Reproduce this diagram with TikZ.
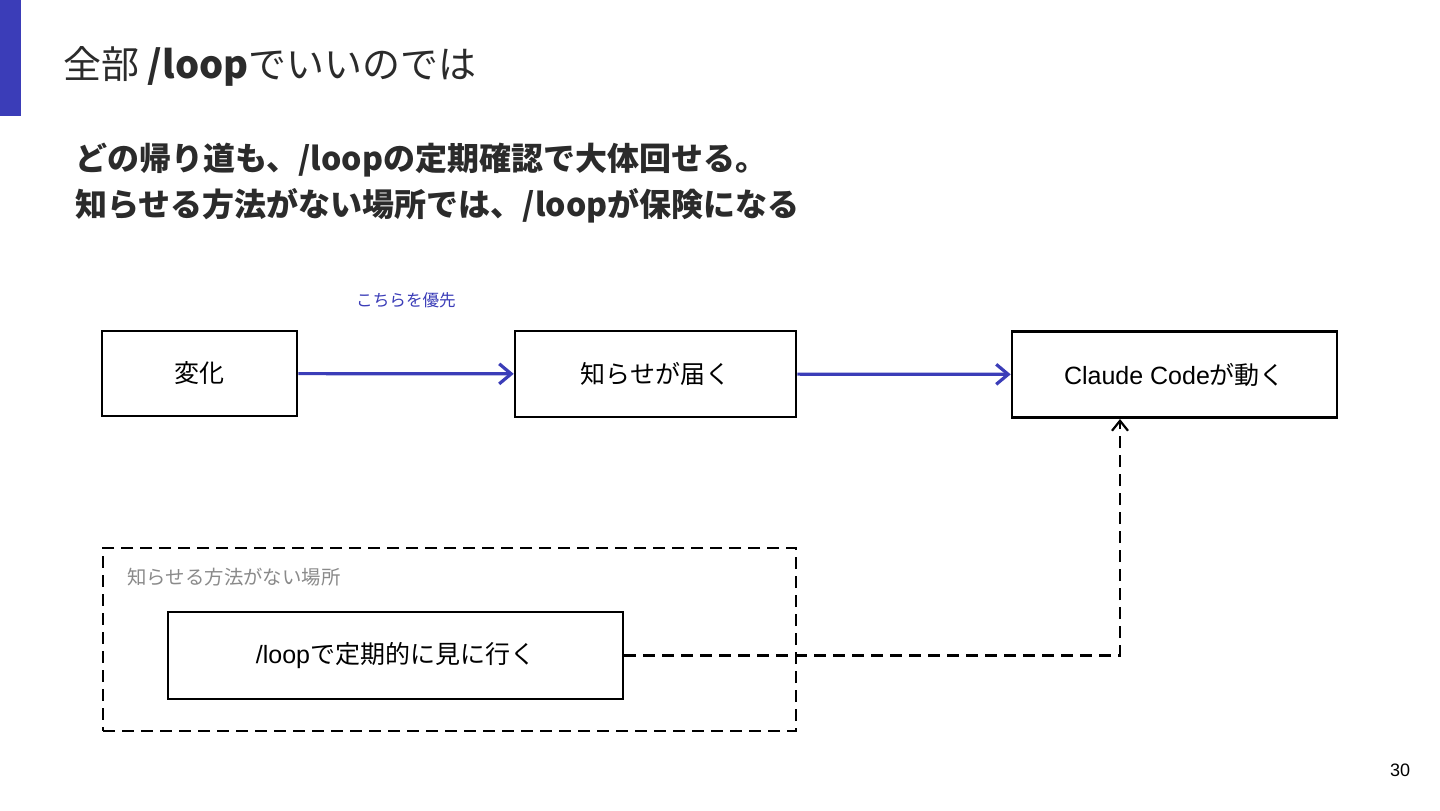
\documentclass[tikz,border=0pt]{standalone}
\usepackage{fontspec}
\setmainfont{Noto Sans CJK JP}
\newfontfamily\latinfont{Liberation Sans}
\usepackage{tikz}
\usetikzlibrary{arrows.meta}

\definecolor{accent}{HTML}{3B3DB8}
\definecolor{inkdark}{HTML}{2B2B2B}
\definecolor{notegray}{HTML}{8A8A8A}

\begin{document}
\begin{tikzpicture}[x=0.5pt,y=-0.5pt,
    box/.style={draw=black, line width=1.3pt, fill=white, font=\fontsize{12.5}{14}\selectfont},
    flow/.style={draw=accent, line width=1.6pt, -{Straight Barb[length=6pt,width=10pt,line width=1.6pt]}},
    dashline/.style={draw=black, line width=1.1pt, dash pattern=on 6pt off 3.5pt},
    fallback/.style={dashline, -{Straight Barb[length=5pt,width=8pt,line width=1.1pt]}},
    lefttext/.style={anchor=west, inner sep=0pt}]
\useasboundingbox (0,0) rectangle (1440,810);
\fill[white] (0,0) rectangle (1440,810);

    % Side bar
    \fill[accent] (0,0) rectangle (21,116);

    % Title and lead text
    \node[lefttext, inkdark, font=\fontsize{19}{22}\selectfont] (title) at (63,66)
        {全部 \textbf{/loop}でいいのでは};
    \node[lefttext, inkdark, font=\bfseries\fontsize{16}{18}\selectfont] (lead1) at (75,160)
        {どの帰り道も、/loopの定期確認で大体回せる。};
    \node[lefttext, inkdark, font=\bfseries\fontsize{16}{18}\selectfont] (lead2) at (75,206)
        {知らせる方法がない場所では、/loopが保険になる};

    % Main path
    \node[box, minimum width=97.5pt, minimum height=42.5pt] (change) at (199.5,373.5) {変化};
    \node[box, minimum width=140.5pt, minimum height=43pt] (notify) at (655.5,374) {知らせが届く};
    \node[box, minimum width=162.5pt, minimum height=43pt] (claude) at (1174.5,374.5)
        {{\latinfont Claude Code}が動く};

    \draw[flow] (change) -- (notify);
    \draw[flow] (notify) -- (claude);
    \node[accent, font=\fontsize{8.3}{9}\selectfont] (prefer) at (406,300) {こちらを優先};

    % Area without notification
    \node[dashline, minimum width=346.5pt, minimum height=91.5pt] (area) at (449.5,639.5) {};
    \node[lefttext, notegray, font=\fontsize{9.7}{11}\selectfont] (arealabel) at (127,577)
        {知らせる方法がない場所};
    \node[box, minimum width=227.5pt, minimum height=43.5pt] (poll) at (395.5,655.5)
        {{\latinfont /loop}で定期的に見に行く};

    % Fallback route
    \coordinate (claudein) at (1120,419);
    \draw[fallback] (poll.east) -| (claudein);

    % Page number
    \node[font=\latinfont\fontsize{9}{10}\selectfont] (page) at (1400,770) {30};

\end{tikzpicture}
\end{document}
